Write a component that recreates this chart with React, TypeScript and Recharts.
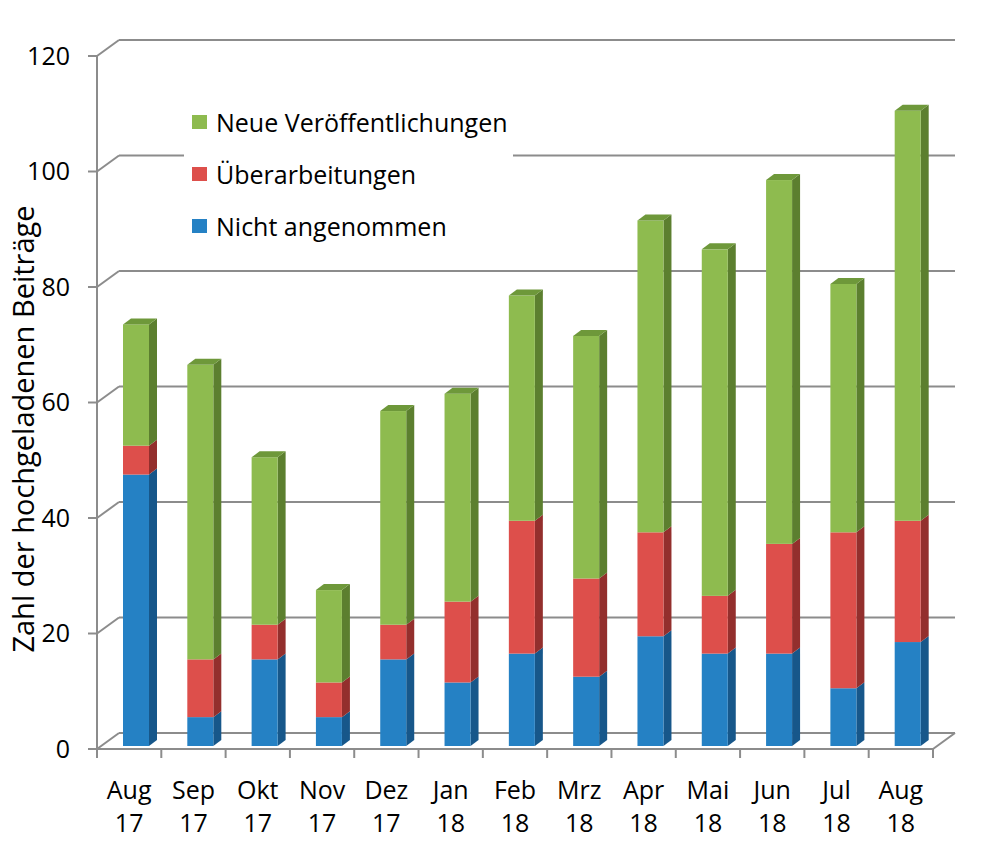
import React from 'react';
import { BarChart, Bar, XAxis, YAxis, CartesianGrid, Legend } from 'recharts';

const months = ['Aug', 'Sep', 'Okt', 'Nov', 'Dez', 'Jan', 'Feb', 'Mrz', 'Apr', 'Mai', 'Jun', 'Jul', 'Aug'];
const years = ['17', '17', '17', '17', '17', '18', '18', '18', '18', '18', '18', '18', '18'];
const nichtAngenommen = [47, 5, 15, 5, 15, 11, 16, 12, 19, 16, 16, 10, 18];
const ueberarbeitungen = [5, 10, 6, 6, 6, 14, 23, 17, 18, 10, 19, 27, 21];
const neueVeroeffentlichungen = [21, 51, 29, 16, 37, 36, 39, 42, 54, 60, 63, 43, 71];
const yTicks = [0, 20, 40, 60, 80, 100, 120];
const yTitle = 'Zahl der hochgeladenen Beiträge';
const legendItems = [
  { name: 'Neue Veröffentlichungen', color: '#8EBB4F' },
  { name: 'Überarbeitungen', color: '#DD4F4B' },
  { name: 'Nicht angenommen', color: '#2581C4' },
];

const data = months.map((m, i) => ({
  label: `${m} ${years[i]}`,
  nicht: nichtAngenommen[i],
  ueber: ueberarbeitungen[i],
  neu: neueVeroeffentlichungen[i],
}));

// layout
const W = 1000;
const H = 847;
const M_TOP = 56;
const M_RIGHT = 67;
const Y_AXIS_W = 97;
const X_AXIS_H = 98;
const PLOT_BOTTOM = H - X_AXIS_H;
const PLOT_W = W - Y_AXIS_W - M_RIGHT;
const DX = 22;
const DY = -16;
const BAR_DX = 7;
const BAR_DY = -3;
const DEPTH_X = 8;
const DEPTH_Y = -6;
const GRID = '#8C8C8C';
const FONT = "'Open Sans', sans-serif";
const FS = 25;

const make3D = (front: string, side: string, top: string | null) => (props: any) => {
  const { x, y, width, height } = props;
  if (!height || height <= 0) return <g />;
  const fx = x + BAR_DX;
  const fy = y + BAR_DY;
  const sidePts = [
    [fx + width, fy],
    [fx + width + DEPTH_X, fy + DEPTH_Y],
    [fx + width + DEPTH_X, fy + height + DEPTH_Y],
    [fx + width, fy + height],
  ]
    .map((p) => p.join(','))
    .join(' ');
  const topPts = [
    [fx, fy],
    [fx + DEPTH_X, fy + DEPTH_Y],
    [fx + width + DEPTH_X, fy + DEPTH_Y],
    [fx + width, fy],
  ]
    .map((p) => p.join(','))
    .join(' ');
  return (
    <g>
      <polygon points={sidePts} fill={side} />
      <rect x={fx} y={fy} width={width} height={height} fill={front} />
      {top && <polygon points={topPts} fill={top} />}
    </g>
  );
};

const gridLine = (p: any) => {
  const { x1, y1, x2 } = p;
  const isFloor = Math.abs(y1 - PLOT_BOTTOM) < 1;
  return (
    <g key={p.key}>
      <line x1={x1} y1={y1} x2={x1 + DX} y2={y1 + DY} stroke={GRID} strokeWidth={2} />
      <line x1={x1 + DX} y1={y1 + DY} x2={x2 + DX} y2={y1 + DY} stroke={GRID} strokeWidth={2} />
      {isFloor && <line x1={x2} y1={y1} x2={x2 + DX} y2={y1 + DY} stroke={GRID} strokeWidth={2} />}
    </g>
  );
};

const XTick = (props: any) => {
  const { x, payload, index } = props;
  const bw = PLOT_W / months.length;
  const [m, yr] = String(payload.value).split(' ');
  return (
    <g>
      <line x1={x - bw / 2} y1={PLOT_BOTTOM} x2={x - bw / 2} y2={PLOT_BOTTOM + 9} stroke={GRID} strokeWidth={2} />
      {index === months.length - 1 && (
        <line x1={x + bw / 2} y1={PLOT_BOTTOM} x2={x + bw / 2} y2={PLOT_BOTTOM + 9} stroke={GRID} strokeWidth={2} />
      )}
      <text textAnchor="middle" fontSize={FS} fill="#000" fontFamily={FONT}>
        <tspan x={x} y={PLOT_BOTTOM + 50}>{m}</tspan>
        <tspan x={x} y={PLOT_BOTTOM + 83}>{yr}</tspan>
      </text>
    </g>
  );
};

const LegendBox = () => (
  <div style={{ fontFamily: FONT, fontSize: FS, color: '#000' }}>
    {legendItems.map((it) => (
      <div key={it.name} style={{ height: 52, display: 'flex', alignItems: 'center' }}>
        <div style={{ width: 15, height: 14, background: it.color, marginLeft: 8, marginRight: 9 }} />
        <span style={{ lineHeight: '25px' }}>{it.name}</span>
      </div>
    ))}
  </div>
);

export default function App() {
  return (
    <div style={{ position: 'absolute', left: 0, top: 0, width: W, height: H, background: '#fff' }}>
      <BarChart
        width={W}
        height={H}
        data={data}
        margin={{ top: M_TOP, right: M_RIGHT, left: 0, bottom: 0 }}
        barSize={26}
      >
        <CartesianGrid vertical={false} horizontal={gridLine} />
        <XAxis
          dataKey="label"
          height={X_AXIS_H}
          interval={0}
          tickLine={false}
          axisLine={{ stroke: GRID, strokeWidth: 2 }}
          tick={(p: any) => <XTick {...p} />}
        />
        <YAxis
          domain={[0, 120]}
          ticks={yTicks}
          interval={0}
          width={Y_AXIS_W}
          axisLine={{ stroke: GRID, strokeWidth: 2 }}
          tickLine={{ stroke: GRID, strokeWidth: 2 }}
          tickSize={9}
          tickMargin={18}
          tick={{ fontSize: FS, fill: '#000', fontFamily: FONT }}
          label={{
            content: () => (
              <text
                transform="translate(22,429) rotate(-90)"
                textAnchor="middle"
                dominantBaseline="central"
                fontSize={29}
                fontFamily={FONT}
                fill="#000"
              >
                {yTitle}
              </text>
            ),
          }}
        />
        <Legend
          layout="horizontal"
          verticalAlign="middle"
          align="center"
          content={() => <LegendBox />}
          wrapperStyle={{ left: 184, top: 96, width: 329, height: 158, background: '#fff' }}
        />
        <Bar
          dataKey="nicht"
          stackId="a"
          fill="#2581C4"
          isAnimationActive={false}
          shape={make3D('#2581C4', '#17578A', null)}
        />
        <Bar
          dataKey="ueber"
          stackId="a"
          fill="#DD4F4B"
          isAnimationActive={false}
          shape={make3D('#DD4F4B', '#932F2D', null)}
        />
        <Bar
          dataKey="neu"
          stackId="a"
          fill="#8EBB4F"
          isAnimationActive={false}
          shape={make3D('#8EBB4F', '#5C7F2F', '#6E983A')}
        />
      </BarChart>
    </div>
  );
}
